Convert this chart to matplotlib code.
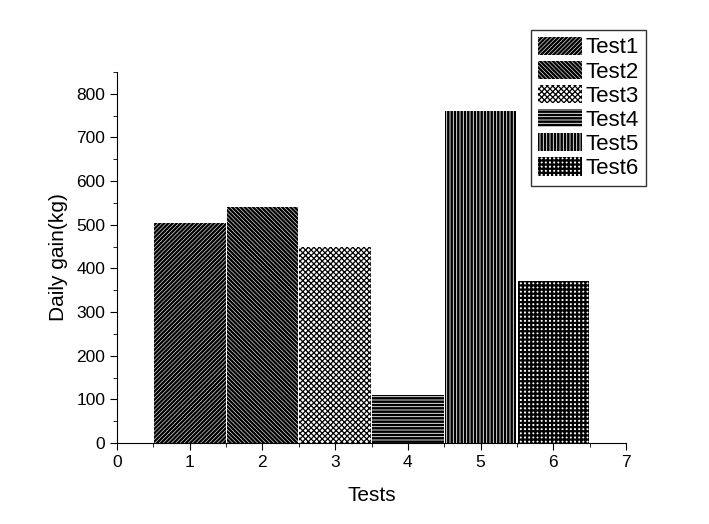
import matplotlib
matplotlib.use('Agg')
import matplotlib.pyplot as plt
from matplotlib.ticker import MultipleLocator

plt.rcParams['font.family'] = ['Liberation Sans', 'DejaVu Sans']

# data
tests = [1, 2, 3, 4, 5, 6]
labels = ['Test1', 'Test2', 'Test3', 'Test4', 'Test5', 'Test6']
gains = [505, 540, 450, 110, 760, 370]
hatches = ['////////', '\\\\\\\\\\\\\\\\', 'xxxxxx', '-----', '|||||', '++++']
hatch_lw = [1.7, 1.7, 0.9, 1.8, 1.8, 1.6]

fig = plt.figure(figsize=(7.09, 5.24), dpi=100)
ax = fig.add_axes([0.165, 0.1546, 0.718, 0.708])

for x, g, lab, h, lw in zip(tests, gains, labels, hatches, hatch_lw):
    with plt.rc_context({'hatch.linewidth': lw}):
        bars = ax.bar(x, g, width=0.985, color='white', edgecolor='black',
                      linewidth=0, hatch=h, label=lab)
    for b in bars:
        b._hatch_linewidth = lw

ax.set_xlim(0, 7)
ax.set_ylim(0, 850)
ax.xaxis.set_major_locator(MultipleLocator(1))
ax.xaxis.set_minor_locator(MultipleLocator(0.5))
ax.yaxis.set_major_locator(MultipleLocator(100))
ax.yaxis.set_minor_locator(MultipleLocator(50))
ax.yaxis.set_major_formatter(plt.FuncFormatter(lambda v, p: '%d' % v if v <= 800 else ''))
ax.spines['top'].set_visible(False)
ax.spines['right'].set_visible(False)
ax.tick_params(which='major', direction='out', length=5, labelsize=12.5)
ax.tick_params(which='minor', direction='out', length=3)
ax.set_xlabel('Tests', fontsize=15, labelpad=12)
ax.set_ylabel('Daily gain(kg)', fontsize=15, labelpad=6)

leg = fig.legend(loc='upper left', bbox_to_anchor=(0.749, 0.943), borderaxespad=0,
                 fontsize=16, frameon=True, fancybox=False, edgecolor='black',
                 handlelength=2.0, handleheight=0.9, labelspacing=0.1,
                 borderpad=0.3, handletextpad=0.15)
leg.get_frame().set_linewidth(1.0)
for p, lw in zip(leg.get_patches(), hatch_lw):
    p._hatch_linewidth = lw

fig.savefig('out.png', dpi=100)
